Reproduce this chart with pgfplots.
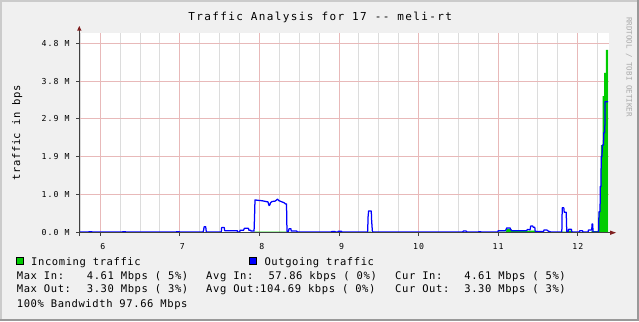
\documentclass[border=0pt]{standalone}
\usepackage{fontspec}
\usepackage{pgfplots}
\pgfplotsset{compat=1.18}
\newfontfamily\titlefont[LetterSpace=12.5]{DejaVu Sans Mono}
\newfontfamily\legfont[LetterSpace=5.7]{DejaVu Sans Mono}
\newfontfamily\tickfont[LetterSpace=12.5]{DejaVu Sans Mono}
\newfontfamily\wmfont{DejaVu Sans Mono}
\definecolor{bgc}{HTML}{F0F0F0}
\definecolor{shadea}{HTML}{CBCBCB}
\definecolor{shadeb}{HTML}{999999}
\definecolor{mgrid}{RGB}{232,185,185}
\definecolor{mingrid}{RGB}{220,220,220}
\definecolor{axisc}{HTML}{404040}
\definecolor{arrowc}{HTML}{7F1F1F}
\definecolor{incoming}{HTML}{00CC00}
\definecolor{outgoing}{HTML}{0000FF}
\definecolor{wmc}{RGB}{170,170,170}
\begin{document}
\begin{tikzpicture}[x=1bp,y=1bp]
\fill[bgc] (0,0) rectangle (639,321);
\fill[shadea] (0,0) rectangle (2,321);
\fill[shadea] (0,319) rectangle (639,321);
\fill[shadeb] (637,0) rectangle (639,321);
\fill[shadeb] (0,0) rectangle (639,2);
\begin{axis}[
  at={(79.3bp,88.3bp)}, anchor=south west,
  scale only axis, width=529.7bp, height=200bp,
  xmin=5.736, xmax=12.393, ymin=0, ymax=5.066,
  axis line style={draw=none},
  axis background/.style={fill=white},
  xtick={6,7,8,9,10,11,12},
  xticklabels={\phantom{1}6,\phantom{1}7,\phantom{1}8,\phantom{1}9,10,11,12},
  minor xtick={5.75,6.25,6.5,6.75,7.25,7.5,7.75,8.25,8.5,8.75,9.25,9.5,9.75,10.25,10.5,10.75,11.25,11.5,11.75,12.25},
  ytick={0,0.96,1.92,2.88,3.84,4.8},
  yticklabels={0.0 M,1.0 M,1.9 M,2.9 M,3.8 M,4.8 M},
  xmajorgrids, ymajorgrids, xminorgrids,
  major grid style={draw=mgrid, line width=1bp},
  minor grid style={draw=mingrid, line width=1bp},
  tick pos=left, tick align=outside,
  major tick length=3bp, minor tick length=0pt,
  tick style={draw=axisc, line width=1bp},
  ticklabel style={font=\tickfont\fontsize{8.2bp}{9bp}\selectfont, inner sep=0pt},
  yticklabel style={anchor=east, xshift=-6.6bp},
  xticklabel style={anchor=north, yshift=-8bp},
]
\addplot[fill=incoming, draw=none] coordinates {
(5.736,0.01)(7.93,0.01)(7.94,0.03)(8.34,0.03)(8.345,0.01)
(9.37,0.01)(9.372,0.03)(9.40,0.03)(9.405,0.01)
(11.0,0.01)(11.005,0.03)(11.10,0.03)(11.105,0.10)(11.165,0.10)(11.17,0.045)(11.40,0.045)(11.405,0.05)(11.46,0.05)(11.465,0.01)
(11.80,0.01)(11.805,0.03)(11.86,0.03)(11.865,0.01)
(11.88,0.01)(11.885,0.05)(11.93,0.05)(11.935,0.01)
(12.17,0.01)(12.175,0.04)(12.262,0.04)(12.267,0.53)(12.28,0.53)(12.28,1.06)(12.292,1.06)(12.292,2.22)(12.313,2.22)(12.313,3.46)(12.33,3.46)(12.33,4.05)(12.355,4.05)(12.355,4.63)(12.381,4.63)
} \closedcycle;
\addplot[draw=outgoing, line width=1.25bp, line join=round] coordinates {
(5.736,0.015)(5.85,0.015)(5.86,0.025)(5.89,0.025)(5.90,0.015)
(6.27,0.015)(6.28,0.022)(6.32,0.022)(6.33,0.015)
(6.95,0.015)(6.96,0.025)(6.99,0.025)(7.0,0.015)
(7.29,0.015)(7.298,0.06)(7.305,0.15)(7.325,0.15)(7.332,0.015)
(7.52,0.015)(7.525,0.13)(7.558,0.13)(7.563,0.05)
(7.722,0.05)(7.726,0.015)(7.752,0.015)(7.756,0.06)(7.80,0.06)(7.81,0.11)(7.862,0.11)(7.868,0.06)(7.89,0.06)(7.894,0.04)(7.932,0.04)(7.938,0.39)(7.944,0.83)
(7.982,0.82)(8.032,0.81)(8.082,0.79)(8.107,0.78)(8.120,0.69)(8.130,0.70)(8.139,0.76)(8.158,0.79)(8.196,0.80)(8.21,0.82)(8.227,0.85)(8.246,0.81)(8.283,0.78)(8.309,0.76)(8.327,0.73)(8.34,0.73)(8.346,0.03)
(8.365,0.03)(8.371,0.10)(8.395,0.10)(8.40,0.04)(8.47,0.04)(8.476,0.015)
(8.90,0.015)(8.91,0.03)(8.95,0.03)(8.955,0.015)(8.985,0.015)(8.99,0.035)(9.03,0.035)(9.035,0.015)
(9.36,0.015)(9.365,0.40)(9.372,0.55)(9.405,0.55)(9.41,0.30)(9.42,0.015)
(10.555,0.015)(10.56,0.04)(10.60,0.04)(10.605,0.015)
(10.75,0.015)(10.755,0.025)(10.78,0.025)(10.785,0.015)
(10.995,0.015)(11.0,0.05)(11.09,0.05)(11.10,0.08)(11.107,0.12)(11.15,0.12)(11.158,0.08)(11.17,0.05)
(11.36,0.05)(11.365,0.08)(11.379,0.08)(11.40,0.07)(11.409,0.17)(11.434,0.17)(11.44,0.14)(11.46,0.14)(11.465,0.04)
(11.485,0.03)(11.57,0.03)(11.576,0.07)(11.61,0.07)(11.63,0.04)(11.66,0.02)
(11.80,0.02)(11.805,0.63)(11.825,0.63)(11.83,0.52)(11.855,0.52)(11.862,0.02)
(11.88,0.02)(11.885,0.086)(11.92,0.086)(11.925,0.02)
(12.02,0.02)(12.025,0.05)(12.06,0.05)(12.065,0.02)
(12.13,0.02)(12.135,0.07)(12.176,0.07)(12.18,0.22)(12.188,0.22)(12.192,0.02)
(12.262,0.02)(12.267,0.53)(12.280,0.53)(12.284,1.17)(12.292,1.17)(12.295,1.93)(12.305,1.93)(12.309,2.22)(12.324,2.22)(12.327,2.53)(12.340,2.53)(12.344,3.32)(12.381,3.32)
};
\end{axis}
% axis lines and arrows
\draw[axisc, line width=1bp] (77,88.3) -- (611,88.3);
\draw[axisc, line width=1bp] (79.3,85) -- (79.3,291);
\fill[arrowc] (610,90.5) -- (616,88.3) -- (610,86.1) -- cycle;
\fill[arrowc] (77.1,290.3) -- (79.3,295) -- (81.5,290.3) -- cycle;
% title
\node[anchor=base, inner sep=0pt, font=\titlefont\fontsize{11bp}{13bp}\selectfont] at (320.2,300.3) {Traffic Analysis for 17 -{}- meli-rt};
% y label
\node[rotate=90, anchor=base, inner sep=0pt, font=\legfont\fontsize{10.5bp}{12bp}\selectfont] at (20,188) {traffic in bps};
% watermark
\node[rotate=-90, anchor=center, inner sep=0pt, text=wmc, font=\wmfont\fontsize{7.5bp}{9bp}\selectfont] at (629,254) {RRDTOOL / TOBI OETIKER};
% legend
\tikzset{lg/.style={anchor=base west, inner sep=0pt, font=\legfont\fontsize{10.5bp}{12bp}\selectfont}}
\filldraw[fill=incoming, draw=black, line width=0.8bp] (16.4,56.3) rectangle (23.1,63.2);
\node[lg] at (31,56) {Incoming traffic};
\filldraw[fill=outgoing, draw=black, line width=0.8bp] (249.6,56.3) rectangle (256.7,63.2);
\node[lg] at (264.3,56) {Outgoing traffic};
\node[lg] at (16.7,41.7) {Max In:};
\node[lg] at (86.7,41.7) {4.61 Mbps ( 5\%)};
\node[lg] at (206,41.7) {Avg In:};
\node[lg] at (268.3,41.7) {57.86 kbps ( 0\%)};
\node[lg] at (395,41.7) {Cur In:};
\node[lg] at (464.2,41.7) {4.61 Mbps ( 5\%)};
\node[lg] at (16.7,28.3) {Max Out:};
\node[lg] at (86.7,28.3) {3.30 Mbps ( 3\%)};
\node[lg] at (206,28.3) {Avg Out:};
\node[lg] at (260,28.3) {104.69 kbps ( 0\%)};
\node[lg] at (395,28.3) {Cur Out:};
\node[lg] at (464.2,28.3) {3.30 Mbps ( 3\%)};
\node[lg] at (16.7,14) {100\% Bandwidth 97.66 Mbps};
\pgfresetboundingbox
\useasboundingbox (0,0) rectangle (639,321);
\end{tikzpicture}
\end{document}
